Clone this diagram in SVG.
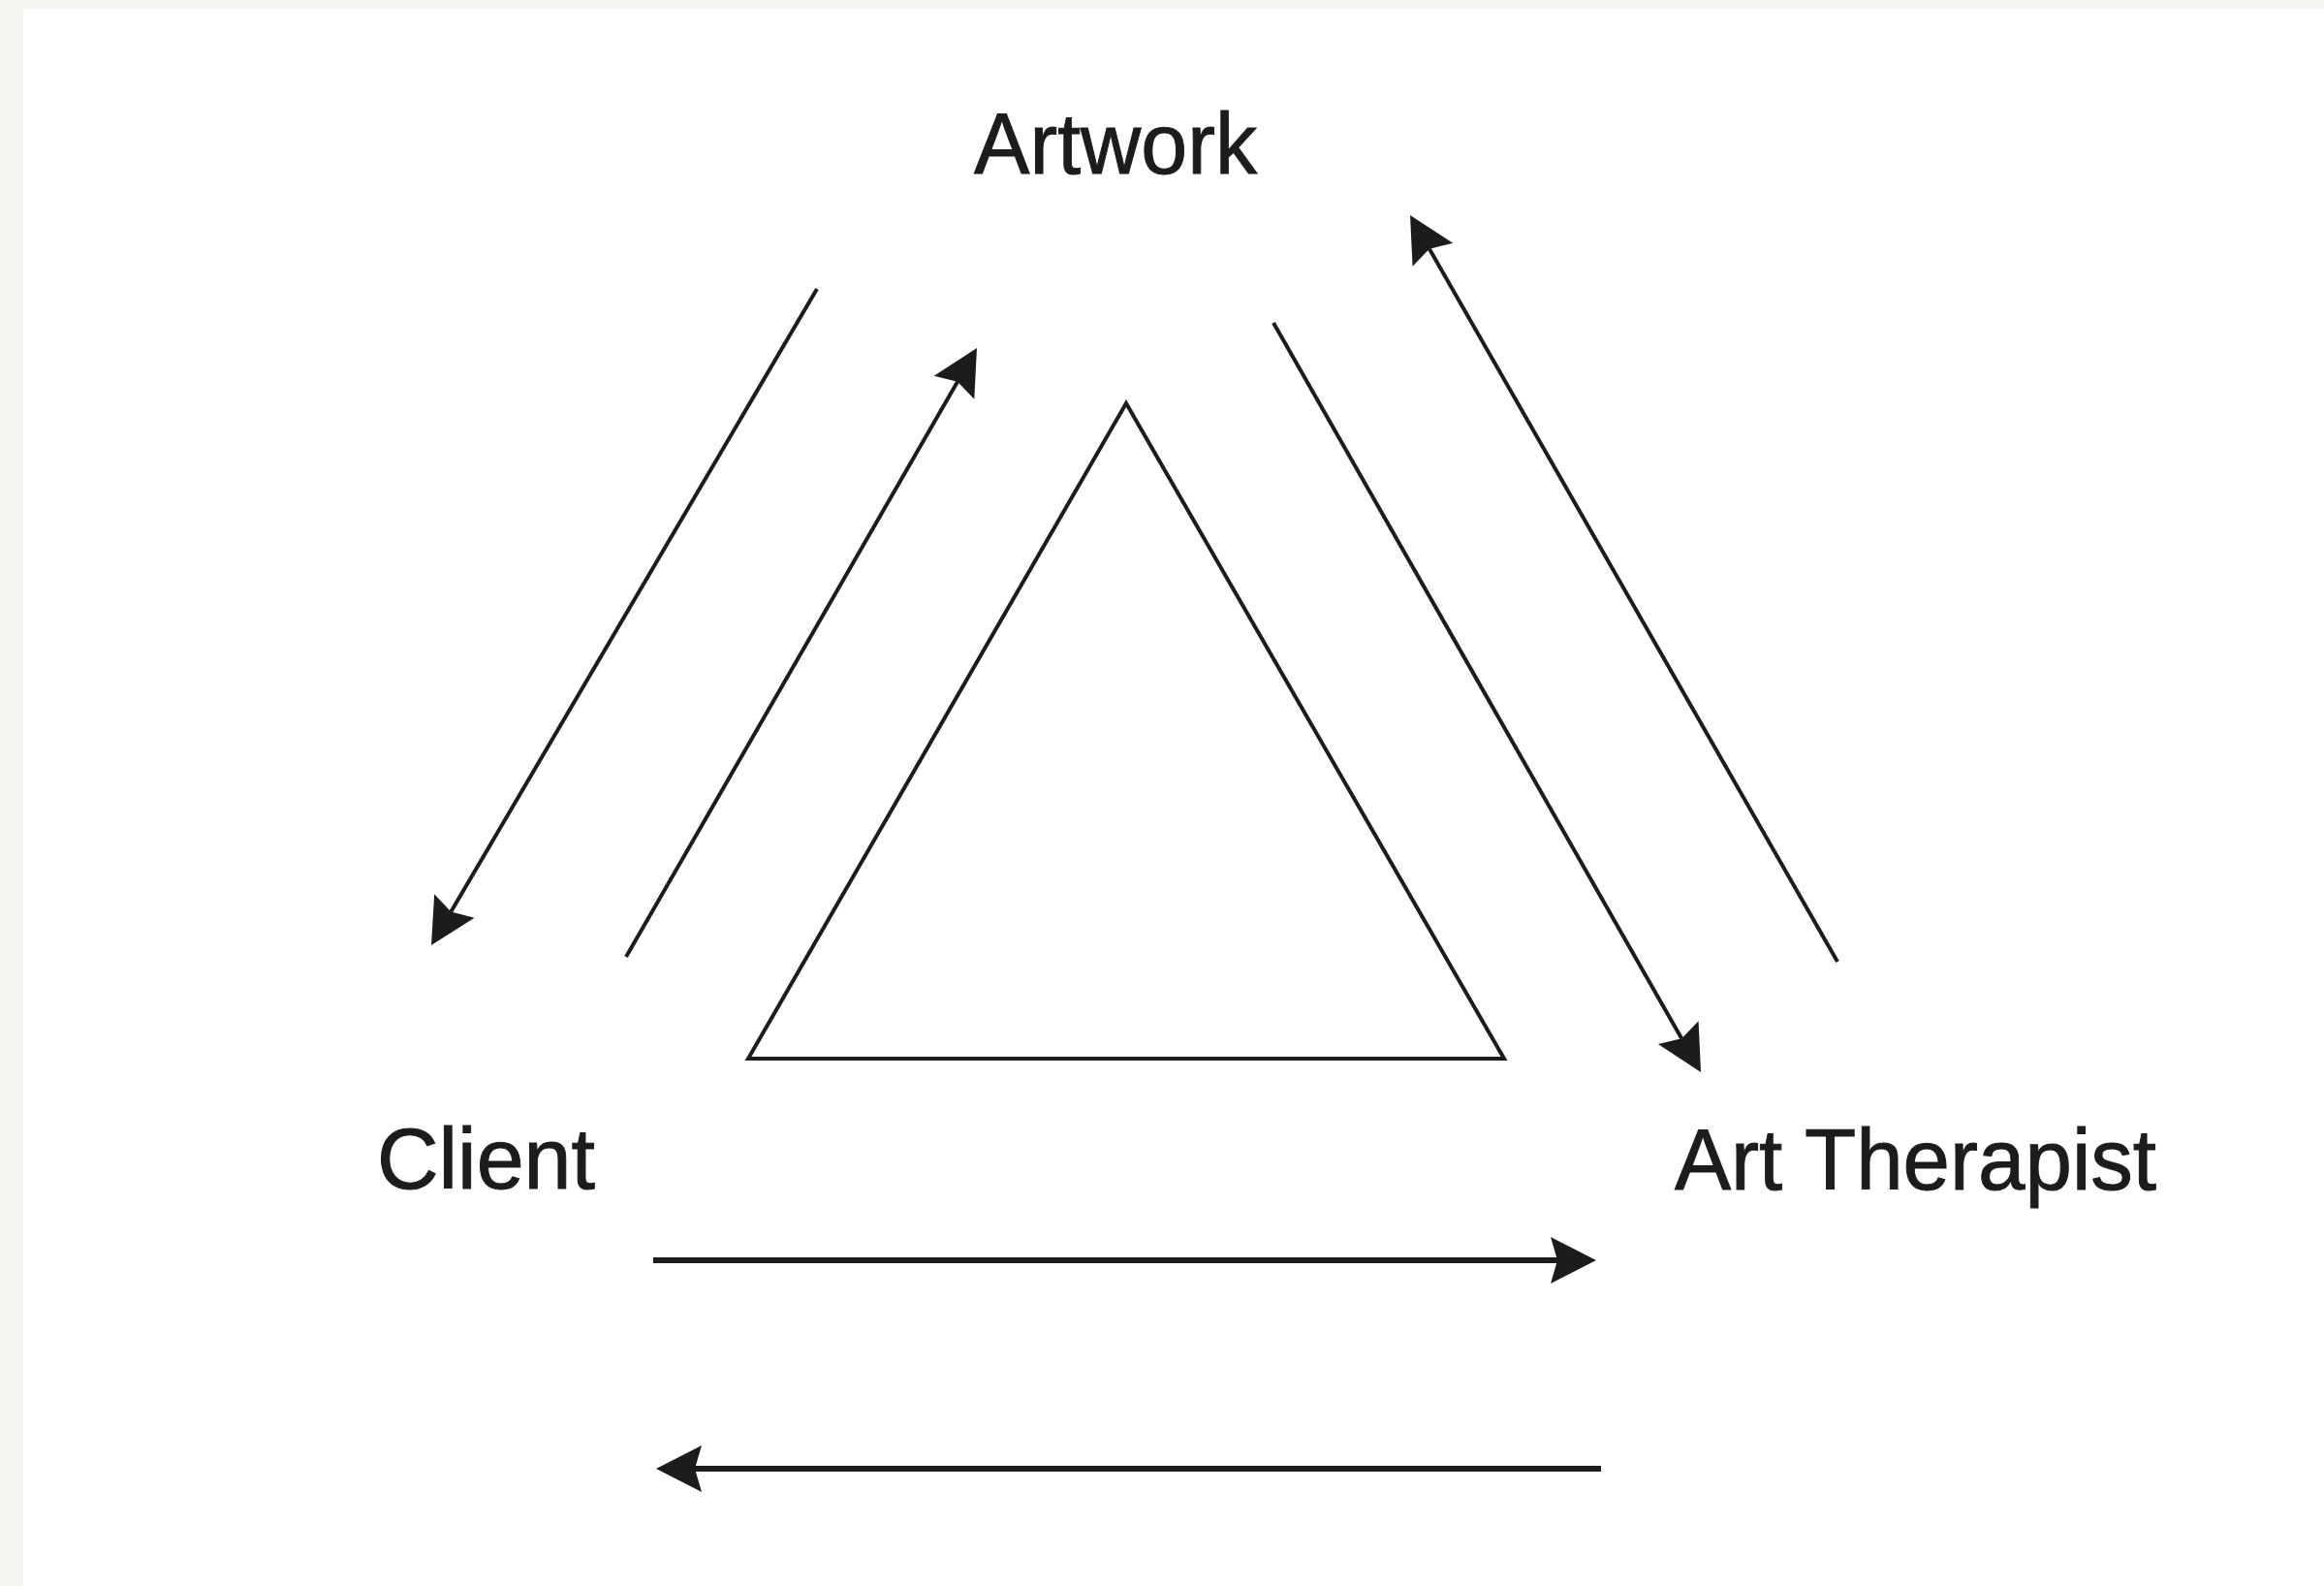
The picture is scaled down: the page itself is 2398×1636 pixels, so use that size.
<svg xmlns="http://www.w3.org/2000/svg" width="2398" height="1636" viewBox="0 0 2398 1636">
  <style>
    .lbl { font-family: "Liberation Sans", Arial, sans-serif; font-size: 89px; fill: #1c1c1c; stroke: #1c1c1c; stroke-width: 1; }
    .diag { stroke: #1c1c1c; stroke-width: 4; fill: none; stroke-linecap: butt; }
    .horiz { stroke: #1c1c1c; stroke-width: 6; fill: none; stroke-linecap: butt; }
    .tri { stroke: #1c1c1c; stroke-width: 4; fill: none; stroke-linejoin: miter; }
  </style>
  <defs>
    <marker id="ah" markerUnits="userSpaceOnUse" markerWidth="60" markerHeight="54" viewBox="-12 -27 56 54" refX="0" refY="0" orient="auto" overflow="visible">
      <path d="M40,0 L-7,-24 L0,0 L-7,24 Z" fill="#1c1c1c"/>
    </marker>
  </defs>
  <rect x="0" y="0" width="2398" height="1636" fill="#f4f5f0"/>
  <rect x="24" y="9" width="2374" height="1627" fill="#ffffff"/>

  <g id="triangle">
    <polygon class="tri" points="1162,416 1552,1092 772,1092"/>
  </g>

  <g id="node-artwork">
    <text class="lbl" x="1005" y="179" textLength="292" lengthAdjust="spacingAndGlyphs">Artwork</text>
  </g>
  <g id="node-client">
    <text class="lbl" x="389" y="1226" textLength="225" lengthAdjust="spacingAndGlyphs">Client</text>
  </g>
  <g id="node-art-therapist">
    <text class="lbl" x="1728" y="1227" textLength="497" lengthAdjust="spacingAndGlyphs">Art Therapist</text>
  </g>

  <g id="connectors">
    <line class="diag" x1="843" y1="298" x2="465.3" y2="940.5" marker-end="url(#ah)"/>
    <line class="diag" x1="646" y1="987" x2="988" y2="393.7" marker-end="url(#ah)"/>
    <line class="diag" x1="1314" y1="333" x2="1735.2" y2="1071.3" marker-end="url(#ah)"/>
    <line class="diag" x1="1896" y1="992" x2="1474.9" y2="256.7" marker-end="url(#ah)"/>
    <line class="horiz" x1="674" y1="1300" x2="1607" y2="1300" marker-end="url(#ah)"/>
    <line class="horiz" x1="1652" y1="1515" x2="717" y2="1515" marker-end="url(#ah)"/>
  </g>
</svg>
